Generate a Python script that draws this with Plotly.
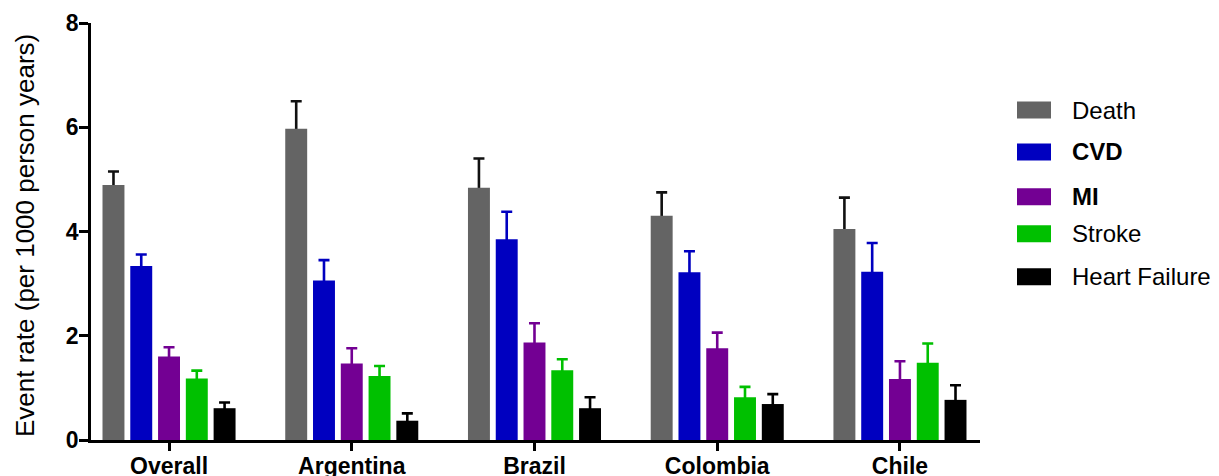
import plotly.graph_objects as go

# Event rates per 1000 person years, with upper error (SE) per group
categories = ["Overall", "Argentina", "Brazil", "Colombia", "Chile"]

death = [4.89, 5.97, 4.84, 4.30, 4.05]
death_err = [0.26, 0.53, 0.56, 0.45, 0.60]

cvd = [3.34, 3.06, 3.85, 3.22, 3.23]
cvd_err = [0.22, 0.39, 0.53, 0.40, 0.55]

mi = [1.60, 1.47, 1.87, 1.76, 1.17]
mi_err = [0.18, 0.29, 0.37, 0.30, 0.34]

stroke = [1.18, 1.23, 1.34, 0.82, 1.48]
stroke_err = [0.15, 0.19, 0.21, 0.20, 0.37]

heart_failure = [0.61, 0.37, 0.61, 0.69, 0.77]
heart_failure_err = [0.11, 0.14, 0.21, 0.19, 0.28]

series_names = ["Death", "CVD", "MI", "Stroke", "Heart Failure"]
series_labels = ["Death", "<b>CVD</b>", "<b>MI</b>", "Stroke", "Heart Failure"]
series_values = [death, cvd, mi, stroke, heart_failure]
series_errors = [death_err, cvd_err, mi_err, stroke_err, heart_failure_err]
bar_colors = ["#646464", "#0000c0", "#730093", "#00c000", "#000000"]
err_colors = ["#111111", "#0000c0", "#730093", "#00c000", "#000000"]

y_ticks = [0, 2, 4, 6, 8]

FONT = "Arial, Liberation Sans, Helvetica, sans-serif"
W, H = 1219, 476
ML, MR, MT, MB = 91, 239, 23, 36

fig = go.Figure()

# Error whiskers first (symmetric), so that the solid bars drawn afterwards
# in the same offset group hide the lower half and leave only the upper whisker.
for i, (name, vals, errs, ecol) in enumerate(zip(series_names, series_values,
                                                 series_errors, err_colors)):
    fig.add_trace(go.Bar(
        x=categories, y=vals, name=name + " error", offsetgroup=str(i),
        marker=dict(color="rgba(0,0,0,0)", line=dict(width=0)),
        error_y=dict(type="data", array=errs, symmetric=True, color=ecol,
                     thickness=2.6, width=5.5),
        showlegend=False, hoverinfo="skip",
    ))

for i, (name, vals, col) in enumerate(zip(series_names, series_values, bar_colors)):
    fig.add_trace(go.Bar(
        x=categories, y=vals, name=name, offsetgroup=str(i),
        marker=dict(color=col, line=dict(width=0)),
        showlegend=False,
    ))

# custom legend with wide swatches
plot_w = W - ML - MR
plot_h = H - MT - MB


def paper_x(px):
    return (px - ML) / plot_w


def paper_y(py):
    return (H - MB - py) / plot_h


legend_rows_px = [110, 152, 196.7, 233.7, 276.7]
shapes, annotations = [], []
for label, col, yc in zip(series_labels, bar_colors, legend_rows_px):
    shapes.append(dict(type="rect", xref="paper", yref="paper",
                       x0=paper_x(1017), x1=paper_x(1051),
                       y0=paper_y(yc + 8.5), y1=paper_y(yc - 8.5),
                       fillcolor=col, line=dict(width=0)))
    annotations.append(dict(text=label, xref="paper", yref="paper",
                            x=paper_x(1070), y=paper_y(yc), xanchor="left",
                            yanchor="middle", showarrow=False,
                            font=dict(family=FONT, size=24, color="#000000")))

annotations.append(dict(text="Event rate (per 1000 person years)", textangle=-90,
                        xref="paper", yref="paper", x=paper_x(25), y=paper_y(236),
                        xanchor="center", yanchor="middle", showarrow=False,
                        font=dict(family=FONT, size=26, color="#000000")))

fig.update_layout(
    width=W, height=H,
    margin=dict(l=ML, r=MR, t=MT, b=MB, pad=0, autoexpand=False),
    paper_bgcolor="white", plot_bgcolor="white",
    barmode="group", bargap=0.24, bargroupgap=0.21,
    shapes=shapes, annotations=annotations,
    font=dict(family=FONT, color="#000000"),
    xaxis=dict(
        range=[-0.427, 4.438], showline=True, linecolor="black", linewidth=2.6,
        ticks="outside", ticklen=8, tickwidth=2.6, tickcolor="black",
        ticklabelstandoff=-4, automargin=False,
        tickfont=dict(family=FONT, size=23, color="black", weight="bold"),
        showgrid=False, zeroline=False, fixedrange=True,
    ),
    yaxis=dict(
        range=[0, 8], tickvals=y_ticks, showline=True, linecolor="black",
        linewidth=2.6, ticks="outside", ticklen=9, tickwidth=2.6, tickcolor="black",
        ticklabelstandoff=-4, automargin=False,
        tickfont=dict(family=FONT, size=23, color="black", weight="bold"),
        showgrid=False, zeroline=False, fixedrange=True,
    ),
)

fig.write_html("out.html")
